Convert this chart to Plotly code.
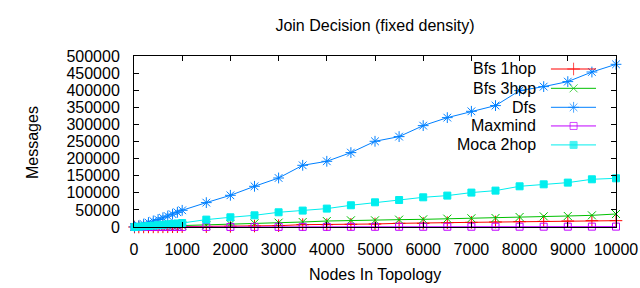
import plotly.graph_objects as go

nodes = [10, 100, 200, 300, 400, 500, 600, 700, 800, 900, 1000,
         1500, 2000, 2500, 3000, 3500, 4000, 4500, 5000, 5500, 6000,
         6500, 7000, 7500, 8000, 8500, 9000, 9500, 10000]

bfs_1hop = [20, 100, 200, 300, 400, 500, 600, 700, 800, 900, 1000,
            1000, 1950, 2900, 3900, 6800, 6800, 7800, 8800, 10700, 10700,
            12700, 13600, 14600, 15600, 16500, 17500, 18500, 18500]
bfs_3hop = [50, 400, 800, 1200, 1600, 2000, 2400, 2800, 3200, 3600, 4000,
            4900, 8800, 10700, 12700, 14600, 17500, 19500, 19500, 21500, 22400,
            24400, 25400, 26300, 29250, 31200, 32200, 34100, 38000]
dfs = [500, 4000, 8500, 13000, 17500, 22000, 27000, 32000, 37500, 43000, 48800,
       71300, 92700, 119000, 143300, 180400, 192100, 217500, 250600, 264300, 296400,
       319800, 338300, 355000, 398800, 410500, 425100, 453200, 475700]
maxmind = [10, 30, 50, 70, 90, 110, 130, 150, 170, 190, 200,
           250, 300, 350, 400, 450, 500, 550, 600, 650, 700,
           750, 800, 850, 900, 950, 1000, 1050, 1100]
moca_2hop = [100, 900, 1900, 3000, 4100, 5300, 6500, 7800, 9000, 10300, 11700,
             21600, 28400, 34200, 43000, 48000, 53800, 63500, 72200, 78900, 86800,
             91800, 100600, 106400, 119000, 124800, 129800, 139500, 142400]

series_names = ["Bfs 1hop", "Bfs 3hop", "Dfs", "Maxmind", "Moca 2hop"]
series_values = [bfs_1hop, bfs_3hop, dfs, maxmind, moca_2hop]
colors = ["#ff0000", "#00c000", "#0080ff", "#c000ff", "#00eeee"]
symbols = ["cross-thin", "x-thin", "asterisk", "square-open", "square"]
sizes = [9, 8, 9, 7, 7]

x_ticks = list(range(0, 10001, 1000))
y_ticks = list(range(0, 500001, 50000))

FONT = "Liberation Sans, Arial, sans-serif"
FS = 16

fig = go.Figure()
for name, vals, c, s, sz in zip(series_names, series_values, colors, symbols, sizes):
    fig.add_trace(go.Scatter(
        x=nodes, y=vals, name=name, mode="lines+markers",
        line=dict(color=c, width=1),
        marker=dict(symbol=s, size=sz, color=c, line=dict(color=c, width=1)),
        showlegend=False, cliponaxis=False,
    ))

# gnuplot-style key: text on the left, sample on the right
row_y = [0.924, 0.811, 0.700, 0.591, 0.480]
for name, c, s, sz, ry in zip(series_names, colors, symbols, sizes, row_y):
    fig.add_trace(go.Scatter(
        x=[0.865, 0.912, 0.9585], y=[ry, ry, ry], xaxis="x2", yaxis="y2",
        mode="lines+markers", line=dict(color=c, width=1),
        marker=dict(symbol=s, size=[0, sz, 0], color=c, line=dict(color=c, width=1)),
        showlegend=False, hoverinfo="skip", cliponaxis=False,
    ))
    fig.add_annotation(text=name, x=0.838, y=ry, xref="paper", yref="paper",
                       xanchor="right", yanchor="middle", showarrow=False,
                       font=dict(family=FONT, size=FS, color="#000000"))

axis_common = dict(
    showgrid=False, zeroline=False, showline=True, linecolor="#000000", linewidth=1,
    mirror="allticks", ticks="inside", ticklen=5, tickcolor="#000000", tickwidth=1,
    tickfont=dict(family=FONT, size=FS, color="#000000"), automargin=False,
)

fig.update_layout(
    template="none",
    width=640, height=288,
    margin=dict(l=134, r=24, t=56, b=61, autoexpand=False),
    paper_bgcolor="#ffffff", plot_bgcolor="#ffffff",
    font=dict(family=FONT, size=FS, color="#000000"),
    title=dict(text="Join Decision (fixed density)", x=375 / 640, xref="container",
               xanchor="center", y=1 - 25 / 288, yref="container", yanchor="middle",
               font=dict(family=FONT, size=FS, color="#000000")),
    xaxis=dict(range=[0, 10000], tickvals=x_ticks, ticktext=[str(v) for v in x_ticks],
               ticklabelstandoff=8, **axis_common),
    yaxis=dict(range=[0, 500000], tickvals=y_ticks, ticktext=[str(v) for v in y_ticks],
               ticklabelstandoff=10, **axis_common),
    xaxis2=dict(range=[0, 1], overlaying="x", visible=False),
    yaxis2=dict(range=[0, 1], overlaying="y", visible=False),
    showlegend=False,
)

fig.add_annotation(text="Nodes In Topology", x=0.5, y=(227 - 274) / 171, xref="paper",
                   yref="paper", xanchor="center", yanchor="middle", showarrow=False,
                   font=dict(family=FONT, size=FS, color="#000000"))
fig.add_annotation(text="Messages", x=(32 - 134) / 482, y=(227 - 143) / 171, xref="paper",
                   yref="paper", xanchor="center", yanchor="middle", showarrow=False,
                   textangle=-90, font=dict(family=FONT, size=FS, color="#000000"))

fig.write_html(
    "out.html",
    config={"displayModeBar": False},
    post_script="document.body.style.margin='0';document.body.style.overflow='hidden';",
)
